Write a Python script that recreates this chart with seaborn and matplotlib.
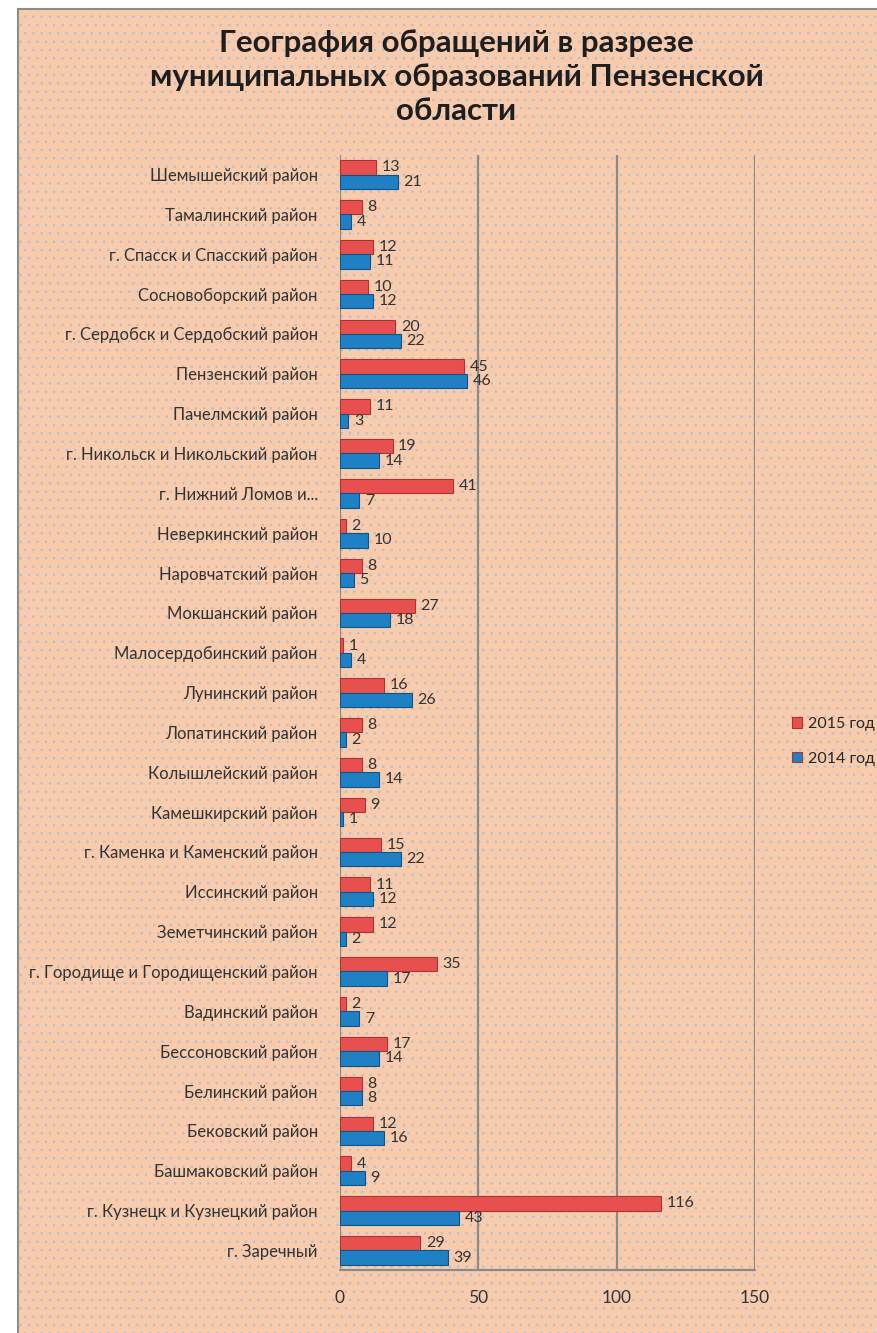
import matplotlib.pyplot as plt
import matplotlib.patches as mpatches
import seaborn as sns
import pandas as pd

# районы сверху вниз, как на исходной диаграмме
districts = [
    'Шемышейский район', 'Тамалинский район', 'г. Спасск и Спасский район',
    'Сосновоборский район', 'г. Сердобск и Сердобский район', 'Пензенский район',
    'Пачелмский район', 'г. Никольск и Никольский район', 'г. Нижний Ломов и...',
    'Неверкинский район', 'Наровчатский район', 'Мокшанский район',
    'Малосердобинский район', 'Лунинский район', 'Лопатинский район',
    'Колышлейский район', 'Камешкирский район', 'г. Каменка и Каменский район',
    'Иссинский район', 'Земетчинский район', 'г. Городище и Городищенский район',
    'Вадинский район', 'Бессоновский район', 'Белинский район', 'Бековский район',
    'Башмаковский район', 'г. Кузнецк и Кузнецкий район', 'г. Заречный',
]
y2015 = [13, 8, 12, 10, 20, 45, 11, 19, 41, 2, 8, 27, 1, 16, 8, 8, 9, 15, 11, 12,
         35, 2, 17, 8, 12, 4, 116, 29]
y2014 = [21, 4, 11, 12, 22, 46, 3, 14, 7, 10, 5, 18, 4, 26, 2, 14, 1, 22, 12, 2,
         17, 7, 14, 8, 16, 9, 43, 39]
years = ['2015 год', '2014 год']
ticks = [0, 50, 100, 150]

df = pd.DataFrame({
    'district': districts * 2,
    'year': [years[0]] * len(districts) + [years[1]] * len(districts),
    'value': y2015 + y2014,
})

sns.set_style('white')
plt.rcParams['font.family'] = ['Lato', 'DejaVu Sans']
plt.rcParams['hatch.linewidth'] = 0.6

bg = '#f8cbad'
fig = plt.figure(figsize=(8.78, 13.33), dpi=100)
fig.patch.set_facecolor('white')
# фон с точками
fig.patches.append(mpatches.Rectangle((18 / 878, 0), 1, 1 - 9 / 1333, transform=fig.transFigure,
                                      facecolor=bg, edgecolor='none', zorder=-2))
fig.patches.append(mpatches.Rectangle((18 / 878, 0), 1, 1 - 9 / 1333, transform=fig.transFigure,
                                      facecolor='none', edgecolor='#b6bfcc', hatch='..',
                                      linewidth=0, zorder=-1))
fig.patches.append(mpatches.Rectangle((18 / 878, -0.01), 1, 1 - 9 / 1333 + 0.01,
                                      transform=fig.transFigure, facecolor='none',
                                      edgecolor='#8c8c8c', linewidth=1.5, zorder=0))

ax = fig.add_axes([340 / 878, 0.047, (755 - 340) / 878, 0.884 - 0.047])
ax.patch.set_alpha(0)
sns.barplot(data=df, y='district', x='value', hue='year', hue_order=years, orient='h',
            palette=['#e8504f', '#1f80c4'], width=0.72, gap=0, saturation=1,
            edgecolor='#a93431', linewidth=0.8, ax=ax)
for bars, ec in zip(ax.containers, ['#a93431', '#0d5489']):
    for b in bars:
        b.set_edgecolor(ec)
    ax.bar_label(bars, padding=4, fontsize=11.5, color='#333333')

ax.set_xlim(0, 150)
ax.set_xticks(ticks)
ax.set_ylim(len(districts) - 0.5, -0.5)
for t in ticks:
    ax.axvline(t, color='#8a8a8a', linewidth=1.6, zorder=0)
for s in ax.spines.values():
    s.set_visible(False)
ax.plot([0, 150], [len(districts) - 0.5] * 2, color='#8a8a8a', lw=1.6, clip_on=False)
ax.tick_params(axis='x', labelsize=12.5, colors='#333333', pad=14, length=0)
ax.tick_params(axis='y', labelsize=12, colors='#333333', pad=16, length=0)
ax.set_xlabel('')
ax.set_ylabel('')

ax.legend(loc='center left', bbox_to_anchor=(1.09, 0.474), frameon=False, fontsize=11.5,
          handlelength=0.6, handleheight=0.6, handletextpad=0.4, labelspacing=1.3,
          borderaxespad=0, borderpad=0)

fig.text(0.52, 0.978, 'География обращений в разрезе\nмуниципальных образований Пензенской\nобласти',
         ha='center', va='top', fontsize=22.5, fontweight='bold', color='#1e1e1e', linespacing=1.25)

fig.savefig('out.png', dpi=100, facecolor=fig.get_facecolor())
